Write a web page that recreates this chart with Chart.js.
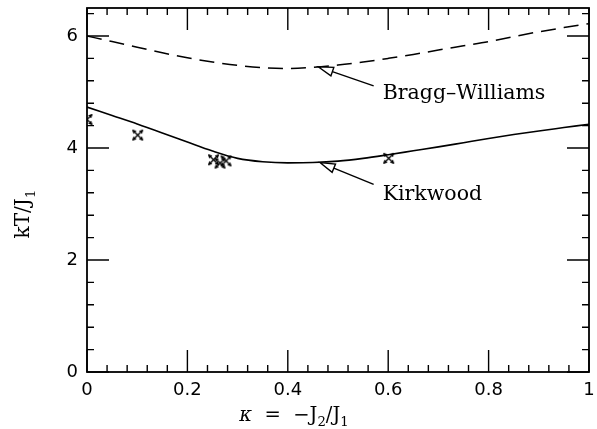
<!DOCTYPE html>
<html><head><meta charset="utf-8">
<style>html,body{margin:0;padding:0;background:#fff}#wrap{width:597px;height:429px;position:relative}</style>
<script src="https://cdn.jsdelivr.net/npm/chart.js@4/dist/chart.umd.min.js"></script>
</head><body><div id="wrap"><canvas id="c" width="597" height="429"></canvas></div>
<script>
// ---- data ----
const kappa = [0,0.05,0.1,0.15,0.2,0.25,0.3,0.35,0.4,0.45,0.5,0.55,0.6,0.65,0.7,0.75,0.8,0.85,0.9,0.95,1.0];
const braggWilliams = [6.0,5.9,5.8,5.7,5.61,5.535,5.475,5.435,5.42,5.44,5.48,5.535,5.6,5.67,5.75,5.825,5.9,5.99,6.075,6.15,6.22];
const kirkwood = [4.73,4.58,4.43,4.27,4.105,3.945,3.815,3.755,3.735,3.74,3.765,3.815,3.88,3.95,4.02,4.095,4.17,4.24,4.305,4.365,4.425];
const simKappa = [0.0,0.101,0.252,0.265,0.277,0.601];
const simT = [4.51,4.23,3.79,3.73,3.77,3.815];
const xTickLabels = [0,0.2,0.4,0.6,0.8,1];
const yTickLabels = [0,2,4,6];
const seriesNames = ['Bragg–Williams','Kirkwood'];

const FRAME = {left:87, right:593, top:8, bottom:372};

// annotation arrows (data coordinates)
const notes = [
  {text: seriesNames[0], tx:0.589, ty:4.875, tipX:0.4605, tipY:5.45, tailX:0.571, tailY:5.11},
  {text: seriesNames[1], tx:0.589, ty:3.07, tipX:0.464, tipY:3.74, tailX:0.571, tailY:3.35}
];

// marker: X with arrowheads
function makeMarker(){
  const s=15, c=document.createElement('canvas'); c.width=s; c.height=s;
  const g=c.getContext('2d'); g.strokeStyle='#000'; g.fillStyle='#000'; g.lineWidth=1.4;
  const a=2.5, b=s-2.5;
  g.beginPath(); g.moveTo(a,a); g.lineTo(b,b); g.moveTo(b,a); g.lineTo(a,b); g.stroke();
  const ends=[[a,a,-1,-1],[b,b,1,1],[b,a,1,-1],[a,b,-1,1]];
  ends.forEach(([x,y,dx,dy])=>{
    const L=4, W=2.2, n=Math.SQRT1_2;
    const ux=dx*n, uy=dy*n, px=-uy, py=ux;
    const tx=x+ux*0.8, ty=y+uy*0.8;
    g.beginPath(); g.moveTo(tx,ty);
    g.lineTo(tx-ux*L+px*W, ty-uy*L+py*W);
    g.lineTo(tx-ux*L-px*W, ty-uy*L-py*W);
    g.closePath(); g.fill();
  });
  return c;
}

function drawRich(ctx, parts, cx, cy, size){
  let w=0;
  const fonts = parts.map(p=>{
    const fs = p.sub? size*0.68 : size;
    const f = (p.italic?'italic ':'') + fs + 'px "DejaVu Serif", serif';
    ctx.font=f; const mw=ctx.measureText(p.t).width; w+=mw; return {f,mw,fs};
  });
  let x=cx-w/2;
  ctx.textBaseline='alphabetic'; ctx.textAlign='left';
  parts.forEach((p,i)=>{
    ctx.font=fonts[i].f;
    ctx.fillText(p.t, x, cy + (p.sub? size*0.28 : 0));
    x+=fonts[i].mw;
  });
}

const framePlugin = {
  id:'frame',
  afterDraw(chart){
    const {ctx, chartArea:ca, scales:{x,y}} = chart;
    ctx.save();
    ctx.strokeStyle='#000'; ctx.lineWidth=1.8;
    ctx.strokeRect(ca.left, ca.top, ca.right-ca.left, ca.bottom-ca.top);
    ctx.lineWidth=1.4;
    ctx.beginPath();
    for(let i=0;i<=25;i++){
      const px=x.getPixelForValue(i*0.04), L=(i%5===0)?22:7;
      ctx.moveTo(px,ca.bottom); ctx.lineTo(px,ca.bottom-L);
      ctx.moveTo(px,ca.top); ctx.lineTo(px,ca.top+L);
    }
    for(let i=0;i<=16;i++){
      const py=y.getPixelForValue(i*0.4), L=(i%5===0)?22:7;
      ctx.moveTo(ca.left,py); ctx.lineTo(ca.left+L,py);
      ctx.moveTo(ca.right,py); ctx.lineTo(ca.right-L,py);
    }
    ctx.stroke();

    // annotations
    notes.forEach(n=>{
      const tx=x.getPixelForValue(n.tipX), ty=y.getPixelForValue(n.tipY);
      const sx=x.getPixelForValue(n.tailX), sy=y.getPixelForValue(n.tailY);
      const dx=sx-tx, dy=sy-ty, d=Math.hypot(dx,dy), ux=dx/d, uy=dy/d, px=-uy, py=ux;
      const L=15, W=4.5;
      ctx.lineWidth=1.4;
      ctx.beginPath();
      ctx.moveTo(tx,ty); ctx.lineTo(tx+ux*L+px*W, ty+uy*L+py*W);
      ctx.lineTo(tx+ux*L-px*W, ty+uy*L-py*W); ctx.closePath();
      ctx.fillStyle='#fff'; ctx.fill(); ctx.stroke();
      ctx.beginPath(); ctx.moveTo(tx+ux*L, ty+uy*L); ctx.lineTo(sx,sy); ctx.stroke();
      ctx.fillStyle='#000';
      ctx.font='20.5px "DejaVu Serif", serif'; ctx.textAlign='left'; ctx.textBaseline='alphabetic';
      ctx.fillText(n.text, x.getPixelForValue(n.tx), y.getPixelForValue(n.ty));
    });

    // axis titles
    ctx.fillStyle='#000';
    drawRich(ctx,[{t:'κ',italic:true},{t:'  =  −J'},{t:'2',sub:true},{t:'/J'},{t:'1',sub:true}], 294, 421, 19.5);
    ctx.save();
    ctx.translate(29,214); ctx.rotate(-Math.PI/2);
    drawRich(ctx,[{t:'kT/J'},{t:'1',sub:true}], 0, 0, 20);
    ctx.restore();
    ctx.restore();
  }
};

const marker = makeMarker();

new Chart(document.getElementById('c'), {
  type:'scatter',
  data:{
    datasets:[
      {label:seriesNames[0], data:kappa.map((k,i)=>({x:k,y:braggWilliams[i]})), showLine:true,
       borderColor:'#000', borderWidth:1.5, borderDash:[15,8], pointRadius:0, cubicInterpolationMode:'monotone', fill:false},
      {label:seriesNames[1], data:kappa.map((k,i)=>({x:k,y:kirkwood[i]})), showLine:true,
       borderColor:'#000', borderWidth:1.6, pointRadius:0, cubicInterpolationMode:'monotone', fill:false},
      {label:'simulation', data:simKappa.map((k,i)=>({x:k,y:simT[i]})), showLine:false,
       pointStyle:marker, pointRadius:7, clip:0}
    ]
  },
  options:{
    responsive:false, animation:false, devicePixelRatio:1,
    layout:{padding:{top:FRAME.top, right:597-FRAME.right, left:0, bottom:0}},
    plugins:{legend:{display:false}, tooltip:{enabled:false}},
    scales:{
      x:{type:'linear', min:0, max:1,
        grid:{display:false, drawTicks:false}, border:{display:false},
        afterBuildTicks:s=>{s.ticks=xTickLabels.map(v=>({value:v}));},
        afterFit:s=>{s.height=429-FRAME.bottom; s.paddingLeft=0; s.paddingRight=0;},
        ticks:{color:'#000', padding:8, maxRotation:0, autoSkip:false,
          font:{family:'"DejaVu Sans", sans-serif', size:18},
          callback:v=>String(v)}},
      y:{type:'linear', min:0, max:6.5,
        grid:{display:false, drawTicks:false}, border:{display:false},
        afterBuildTicks:s=>{s.ticks=yTickLabels.map(v=>({value:v}));},
        afterFit:s=>{s.width=FRAME.left; s.paddingTop=0; s.paddingBottom=0;},
        ticks:{color:'#000', padding:9, autoSkip:false,
          font:{family:'"DejaVu Sans", sans-serif', size:18},
          callback:v=>String(v)}}
    }
  },
  plugins:[framePlugin]
});
</script></body></html>
